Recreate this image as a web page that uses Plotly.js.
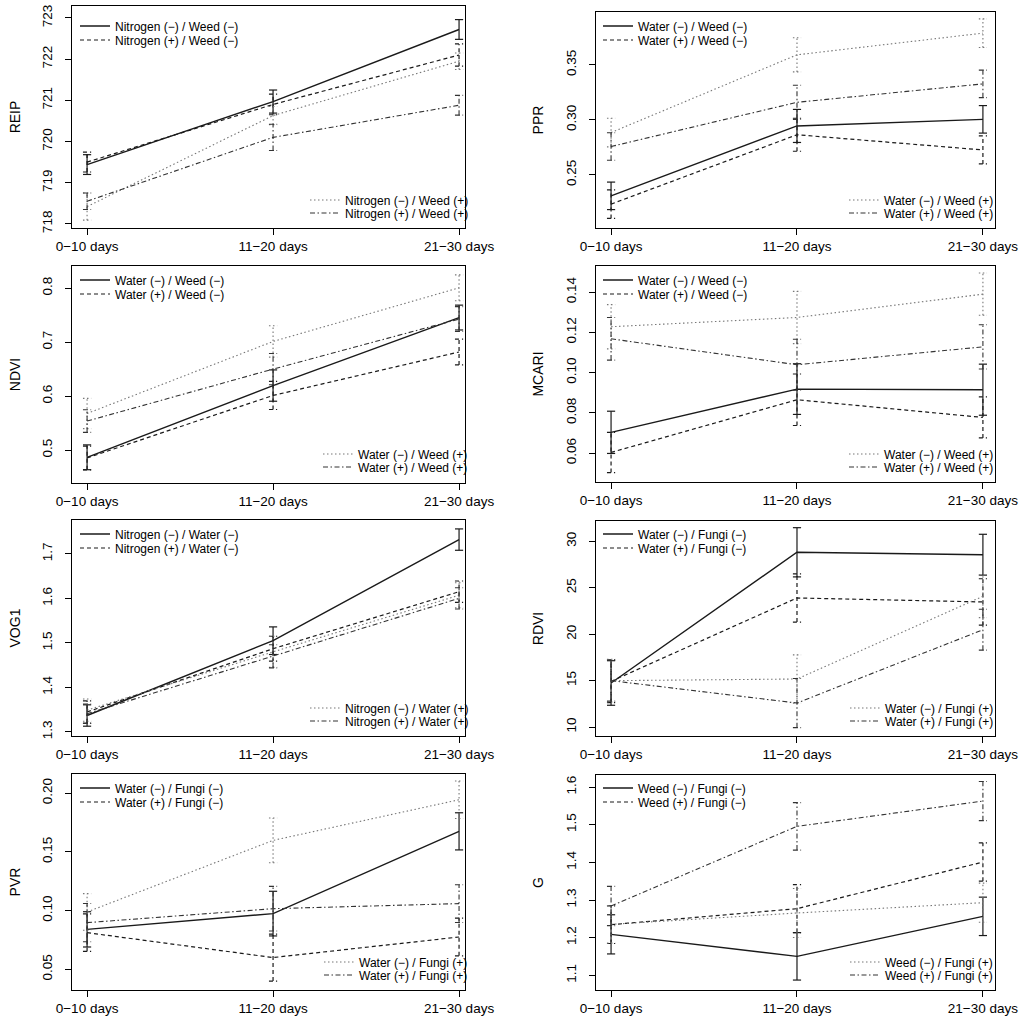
<!DOCTYPE html>
<html><head><meta charset="utf-8">
<script src="https://cdn.plot.ly/plotly-3.0.1.min.js"></script>
<style>html,body{margin:0;padding:0;background:#fff}#chart{width:1024px;height:1018px}</style>
</head><body><div id="chart"></div>
<script>
// ---------- data ----------
const periods = ["0\u221210 days", "11\u221220 days", "21\u221230 days"];

const reipLabels = ["Nitrogen (\u2212) / Weed (\u2212)", "Nitrogen (+) / Weed (\u2212)", "Nitrogen (\u2212) / Weed (+)", "Nitrogen (+) / Weed (+)"];
const reipNmWm = [719.44, 720.97, 722.72], reipNmWmErr = [0.24, 0.28, 0.24];
const reipNpWm = [719.50, 720.90, 722.10], reipNpWmErr = [0.24, 0.25, 0.27];
const reipNmWp = [718.42, 720.63, 721.95], reipNmWpErr = [0.33, 0.22, 0.20];
const reipNpWp = [718.55, 720.10, 720.88], reipNpWpErr = [0.20, 0.32, 0.24];

const waterWeedLabels = ["Water (\u2212) / Weed (\u2212)", "Water (+) / Weed (\u2212)", "Water (\u2212) / Weed (+)", "Water (+) / Weed (+)"];
const pprWmDm = [0.2310, 0.2945, 0.3005], pprWmDmErr = [0.0125, 0.0150, 0.0125];
const pprWpDm = [0.2235, 0.2865, 0.2727], pprWpDmErr = [0.0130, 0.0150, 0.0127];
const pprWmDp = [0.2885, 0.3591, 0.3788], pprWmDpErr = [0.0130, 0.0155, 0.0130];
const pprWpDp = [0.2758, 0.3160, 0.3327], pprWpDpErr = [0.0125, 0.0155, 0.0125];

const ndviWmDm = [0.4866, 0.6195, 0.7455], ndviWmDmErr = [0.023, 0.029, 0.023];
const ndviWpDm = [0.4854, 0.6012, 0.6817], ndviWpDmErr = [0.022, 0.026, 0.024];
const ndviWmDp = [0.5677, 0.7012, 0.8006], ndviWmDpErr = [0.028, 0.029, 0.024];
const ndviWpDp = [0.5537, 0.6500, 0.7427], ndviWpDpErr = [0.021, 0.029, 0.023];

const mcariWmDm = [0.0703, 0.0918, 0.0915], mcariWmDmErr = [0.0105, 0.0126, 0.0127];
const mcariWpDm = [0.0603, 0.0865, 0.0777], mcariWpDmErr = [0.0100, 0.0128, 0.0102];
const mcariWmDp = [0.1228, 0.1274, 0.1390], mcariWmDpErr = [0.0110, 0.0130, 0.0105];
const mcariWpDp = [0.1168, 0.1039, 0.1128], mcariWpDpErr = [0.0106, 0.0127, 0.0110];

const vogLabels = ["Nitrogen (\u2212) / Water (\u2212)", "Nitrogen (+) / Water (\u2212)", "Nitrogen (\u2212) / Water (+)", "Nitrogen (+) / Water (+)"];
const vogNmWm = [1.337, 1.505, 1.732], vogNmWmErr = [0.024, 0.031, 0.024];
const vogNpWm = [1.345, 1.487, 1.615], vogNpWmErr = [0.025, 0.028, 0.024];
const vogNmWp = [1.349, 1.480, 1.607], vogNmWpErr = [0.025, 0.035, 0.028];
const vogNpWp = [1.341, 1.470, 1.600], vogNpWpErr = [0.022, 0.026, 0.024];

const waterFungiLabels = ["Water (\u2212) / Fungi (\u2212)", "Water (+) / Fungi (\u2212)", "Water (\u2212) / Fungi (+)", "Water (+) / Fungi (+)"];
const rdviWmFm = [14.74, 28.82, 28.56], rdviWmFmErr = [2.4, 2.65, 2.2];
const rdviWpFm = [14.92, 23.90, 23.47], rdviWpFmErr = [2.3, 2.6, 2.5];
const rdviWmFp = [14.99, 15.17, 24.08], rdviWmFpErr = [2.3, 2.6, 2.3];
const rdviWpFp = [14.99, 12.58, 20.48], rdviWpFpErr = [2.2, 2.65, 2.2];

const pvrWmFm = [0.0840, 0.0974, 0.1674], pvrWmFmErr = [0.0150, 0.0190, 0.0158];
const pvrWpFm = [0.0812, 0.0600, 0.0775], pvrWpFmErr = [0.0160, 0.0200, 0.0160];
const pvrWmFp = [0.0988, 0.1597, 0.1943], pvrWmFpErr = [0.0156, 0.0190, 0.0160];
const pvrWpFp = [0.0897, 0.1016, 0.1059], pvrWpFpErr = [0.0163, 0.0190, 0.0160];

const weedFungiLabels = ["Weed (\u2212) / Fungi (\u2212)", "Weed (+) / Fungi (\u2212)", "Weed (\u2212) / Fungi (+)", "Weed (+) / Fungi (+)"];
const gDmFm = [1.2088, 1.1504, 1.2566], gDmFmErr = [0.052, 0.063, 0.051];
const gDpFm = [1.2345, 1.2770, 1.4009], gDpFmErr = [0.050, 0.064, 0.051];
const gDmFp = [1.2354, 1.2655, 1.2929], gDmFpErr = [0.050, 0.065, 0.052];
const gDpFp = [1.2841, 1.4956, 1.5628], gDpFpErr = [0.052, 0.063, 0.052];

// ---------- layout / styling ----------
const W = 1024, H = 1018;
const FONT = "Liberation Sans, Arial, Helvetica, sans-serif";
const panels = [
  {title:"REIP", labels:reipLabels, means:[reipNmWm,reipNpWm,reipNmWp,reipNpWp], errs:[reipNmWmErr,reipNpWmErr,reipNmWpErr,reipNpWpErr],
   range:[717.9,723.29], tick0:718, dtick:1, fmt:"d", box:[72,465,6,228], block:0, col:0, botX:345},
  {title:"PPR", labels:waterWeedLabels, means:[pprWmDm,pprWpDm,pprWmDp,pprWpDp], errs:[pprWmDmErr,pprWpDmErr,pprWmDpErr,pprWpDpErr],
   range:[0.2018,0.398], tick0:0.25, dtick:0.05, fmt:".2f", box:[596,995,12,228], block:0, col:1, botX:884},
  {title:"NDVI", labels:waterWeedLabels, means:[ndviWmDm,ndviWpDm,ndviWmDp,ndviWpDp], errs:[ndviWmDmErr,ndviWpDmErr,ndviWmDpErr,ndviWpDpErr],
   range:[0.439,0.841], tick0:0.5, dtick:0.1, fmt:".1f", box:[72,465,266,483], block:254, col:0, botX:358},
  {title:"MCARI", labels:waterWeedLabels, means:[mcariWmDm,mcariWpDm,mcariWmDp,mcariWpDp], errs:[mcariWmDmErr,mcariWpDmErr,mcariWmDpErr,mcariWpDpErr],
   range:[0.0456,0.153], tick0:0.06, dtick:0.02, fmt:".2f", box:[596,995,266,482], block:254, col:1, botX:884},
  {title:"VOG1", labels:vogLabels, means:[vogNmWm,vogNpWm,vogNmWp,vogNpWp], errs:[vogNmWmErr,vogNpWmErr,vogNmWpErr,vogNpWpErr],
   range:[1.291,1.776], tick0:1.3, dtick:0.1, fmt:".1f", box:[72,465,520,736], block:508, col:0, botX:345},
  {title:"RDVI", labels:waterFungiLabels, means:[rdviWmFm,rdviWpFm,rdviWmFp,rdviWpFp], errs:[rdviWmFmErr,rdviWpFmErr,rdviWmFpErr,rdviWpFpErr],
   range:[9.03,32.19], tick0:10, dtick:5, fmt:"d", box:[596,995,521,736], block:508, col:1, botX:885},
  {title:"PVR", labels:waterFungiLabels, means:[pvrWmFm,pvrWpFm,pvrWmFp,pvrWpFp], errs:[pvrWmFmErr,pvrWpFmErr,pvrWmFpErr,pvrWpFpErr],
   range:[0.0324,0.2162], tick0:0.05, dtick:0.05, fmt:".2f", box:[72,465,774,990], block:762, col:0, botX:359},
  {title:"G", labels:weedFungiLabels, means:[gDmFm,gDpFm,gDmFp,gDpFp], errs:[gDmFmErr,gDpFmErr,gDmFpErr,gDpFpErr],
   range:[1.061,1.632], tick0:1.1, dtick:0.1, fmt:".1f", box:[596,995,775,990], block:762, col:1, botX:885}
];
const styles = [
  {dash:"solid", color:"#1a1a1a", width:1.4},
  {dash:"4px,3px", color:"#1a1a1a", width:1.2},
  {dash:"1.5px,2.5px", color:"#777777", width:1.1},
  {dash:"5px,2.5px,1.5px,2.5px", color:"#333333", width:1.1}
];
const legendRows = [26, 40, 200, 213];
const topTextX = [115, 638];
const xRanges = [[0.919, 3.032], [0.919, 3.065]];
const capHalf = 0.022;

const xs = periods.map((_, i) => i + 1);
const traces = [];
const layout = {
  width: W, height: H, margin:{l:0,r:0,t:0,b:0},
  paper_bgcolor:"#fff", plot_bgcolor:"#fff",
  font:{family:FONT, color:"#000", size:13}
};
let legendCount = 0;

panels.forEach((p, pi) => {
  const k = pi + 1;
  const xa = k === 1 ? "x" : "x" + k;
  const ya = k === 1 ? "y" : "y" + k;
  const [x0, x1, y0, y1] = p.box;
  layout[k === 1 ? "xaxis" : "xaxis" + k] = {
    domain:[x0 / W, x1 / W], anchor: ya, range: xRanges[p.col],
    tickmode:"array", tickvals: xs, ticktext: periods,
    ticks:"outside", ticklen:6, tickcolor:"#000", tickwidth:1,
    showline:true, mirror:true, linecolor:"#000", linewidth:1,
    showgrid:false, zeroline:false, tickfont:{size:13.5, family:FONT, color:"#000"}
  };
  layout[k === 1 ? "yaxis" : "yaxis" + k] = {
    domain:[1 - y1 / H, 1 - y0 / H], anchor: xa, range: p.range,
    tick0: p.tick0, dtick: p.dtick, tickformat: p.fmt, tickangle:-90,
    ticks:"outside", ticklen:6, tickcolor:"#000", tickwidth:1, ticklabelstandoff:8,
    showline:true, mirror:true, linecolor:"#000", linewidth:1,
    showgrid:false, zeroline:false, tickfont:{size:13.5, family:FONT, color:"#000"},
    title:{text:p.title, font:{size:14, family:FONT, color:"#000"}, standoff: p.col === 0 ? 15 : 16}
  };
  p.means.forEach((m, s) => {
    legendCount++;
    const lid = legendCount === 1 ? "legend" : "legend" + legendCount;
    const st = styles[s];
    traces.push({
      type:"scatter", mode:"lines", x: xs, y: m, name: p.labels[s],
      xaxis: xa, yaxis: ya, legend: lid, showlegend:true, hoverinfo:"skip",
      line:{dash: st.dash, color: st.color, width: st.width}
    });
    const ex = [], ey = [];
    m.forEach((v, i) => {
      const e = p.errs[s][i], xv = xs[i];
      ex.push(xv, xv, null, xv - capHalf, xv + capHalf, null, xv - capHalf, xv + capHalf, null);
      ey.push(v - e, v + e, null, v + e, v + e, null, v - e, v - e, null);
    });
    traces.push({
      type:"scatter", mode:"lines", x: ex, y: ey, xaxis: xa, yaxis: ya,
      showlegend:false, hoverinfo:"skip", connectgaps:false,
      line:{dash: st.dash, color: st.color, width: Math.min(st.width, 1.2)}
    });
    const textX = s < 2 ? topTextX[p.col] : p.botX;
    layout[lid] = {
      x: (textX - 40) / W, y: 1 - (p.block + legendRows[s]) / H,
      xanchor:"left", yanchor:"middle", bgcolor:"rgba(0,0,0,0)", borderwidth:0,
      font:{family:FONT, size:12, color:"#000"}, itemwidth:30, tracegroupgap:0
    };
  });
});

Plotly.newPlot("chart", traces, layout, {displayModeBar:false, staticPlot:true});
</script>
</body></html>
